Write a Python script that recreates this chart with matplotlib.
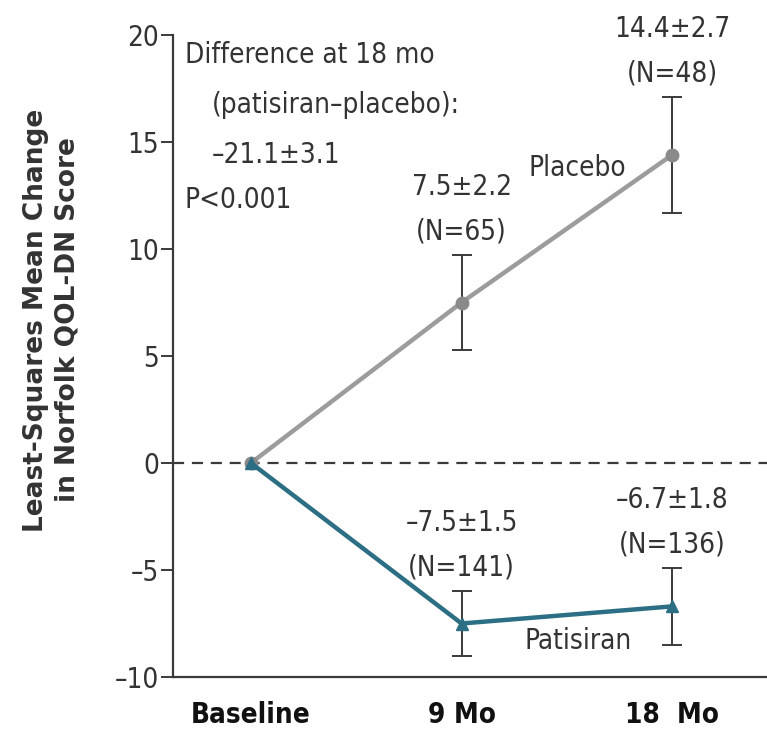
import numpy as np
import matplotlib
matplotlib.use("Agg")
import matplotlib.pyplot as plt

# ----------------------------
# DATA
# ----------------------------
months = ["Baseline", "9 Mo", "18  Mo"]
placebo_mean = [0.0, 7.5, 14.4]
placebo_se = [0.0, 2.2, 2.7]
placebo_n = [None, 65, 48]
patisiran_mean = [0.0, -7.5, -6.7]
patisiran_se = [0.0, 1.5, 1.8]
patisiran_n = [None, 141, 136]

GRAY = "#9c9c9c"
TEAL = "#2c6e84"
DARK = "#3a3a3a"

# narrow face, closer to the journal's condensed type
plt.rcParams["font.family"] = ["DejaVu Sans"]
plt.rcParams["font.stretch"] = "condensed"

x = np.arange(len(months))

fig = plt.figure(figsize=(7.67, 7.35), dpi=100)
ax = fig.add_axes([173 / 767, 1 - 677 / 735, 1 - 173 / 767, (677 - 35) / 735])

# zero reference line
ax.axhline(0, color=DARK, lw=1.6, ls=(0, (5, 3.5)), zorder=1)

# lines + markers
ax.plot(x, placebo_mean, color=GRAY, lw=3.2, marker="o", ms=9,
        mfc="#8a8a8a", mec="#8a8a8a", zorder=3)
ax.plot(x, patisiran_mean, color=TEAL, lw=3.2, marker="^", ms=9,
        mfc=TEAL, mec=TEAL, zorder=4)

# error bars (follow-up visits only)
ax.errorbar(x[1:], placebo_mean[1:], yerr=placebo_se[1:], fmt="none",
            ecolor=DARK, elinewidth=1.4, capsize=7.5, capthick=1.4, zorder=2)
ax.errorbar(x[1:], patisiran_mean[1:], yerr=patisiran_se[1:], fmt="none",
            ecolor=DARK, elinewidth=1.4, capsize=7.5, capthick=1.4, zorder=2)

# value labels above each error bar
txt_kw = dict(ha="center", va="bottom", fontsize=20, color="#333333",
              linespacing=1.75, textcoords="offset points")
for i in range(1, len(months)):
    ax.annotate(f"{placebo_mean[i]:.1f}\u00b1{placebo_se[i]:.1f}\n(N={placebo_n[i]})",
                (x[i], placebo_mean[i] + placebo_se[i]), xytext=(0, 7), **txt_kw)
    ax.annotate(f"\u2013{abs(patisiran_mean[i]):.1f}\u00b1{patisiran_se[i]:.1f}\n(N={patisiran_n[i]})",
                (x[i], patisiran_mean[i] + patisiran_se[i]), xytext=(0, 7), **txt_kw)

# series names
ax.text(1.316, 13.8, "Placebo", fontsize=20, color="#333333", va="center")
ax.text(1.30, -8.3, "Patisiran", fontsize=20, color="#333333", va="center")

# difference box
diff_kw = dict(transform=ax.transAxes, fontsize=20, color="#333333", va="center")
ax.text(0.02, 0.969, "Difference at 18 mo", **diff_kw)
ax.text(0.066, 0.891, "(patisiran\u2013placebo):", **diff_kw)
ax.text(0.066, 0.813, "\u201321.1\u00b13.1", **diff_kw)
ax.text(0.02, 0.743, "P<0.001", **diff_kw)

# axes styling
ax.set_xlim(-0.37, 2.45)
ax.set_ylim(-10, 20)
ax.set_yticks([-10, -5, 0, 5, 10, 15, 20])
ax.set_yticklabels(["\u201310", "\u20135", "0", "5", "10", "15", "20"])
ax.set_xticks(x)
ax.set_xticklabels(months, fontweight="bold")
ax.tick_params(axis="y", length=9, width=1.4, color=DARK, labelsize=20,
               labelcolor="#333333", pad=1)
ax.tick_params(axis="x", length=0, labelsize=20, labelcolor="#111111", pad=17)
for side in ["top", "right"]:
    ax.spines[side].set_visible(False)
for side in ["left", "bottom"]:
    ax.spines[side].set_color(DARK)
    ax.spines[side].set_linewidth(1.6)

fig.text(52 / 767, 1 - 320 / 735,
         "Least-Squares Mean Change\nin Norfolk QOL-DN Score",
         rotation=90, ha="center", va="center", multialignment="center",
         fontsize=19, fontweight="bold", fontstretch="normal",
         color="#333333", linespacing=1.3)

fig.savefig("out.png", dpi=100)
